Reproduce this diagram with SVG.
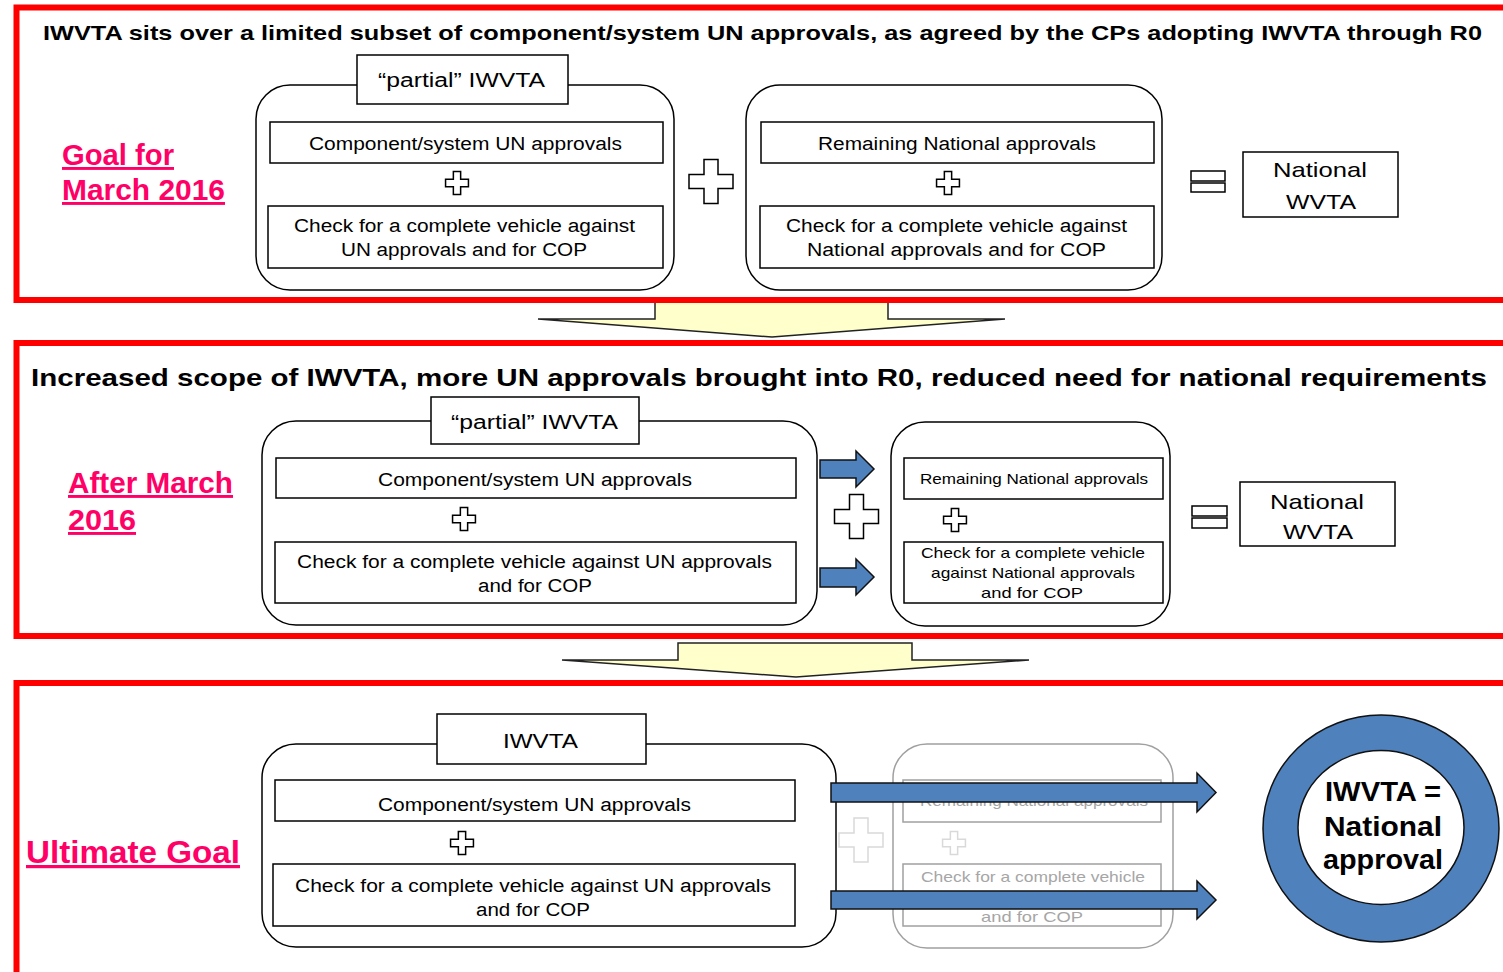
<svg xmlns="http://www.w3.org/2000/svg" width="1503" height="972" viewBox="0 0 1503 972">
<style>
text{font-family:"Liberation Sans",Arial,sans-serif;fill:#000}
.t{font-size:18px}
.ts{font-size:15px}
.lbl{font-size:20px}
.nat{font-size:21px}
.title{font-weight:bold}
.goal{font-weight:bold;fill:#FF0066;text-decoration:underline}
.frame{fill:none;stroke:#FF0000;stroke-width:6}
.rbox{fill:#fff;stroke:#000;stroke-width:1.5}
.box{fill:#fff;stroke:#000;stroke-width:1.5}
.fbox{fill:none;stroke:#A0A0A0;stroke-width:1.5}
.ftext{fill:#A6A6A6}
.plus{fill:#fff;stroke:#000;stroke-width:1.5}
.fplus{fill:#fff;stroke:#D9D9D9;stroke-width:1.5}
.blk{fill:#FFFFCC;stroke:#222;stroke-width:1.5;stroke-linejoin:miter}
.blue{fill:#4F81BD;stroke:#111;stroke-width:1.5}
</style>
<defs>
<path id="plusShape" d="M-7,-22 H7 V-7 H22 V7 H7 V22 H-7 V7 H-22 V-7 H-7 Z"/>
</defs>
<rect width="1503" height="972" fill="#fff"/>

<g id="connectors">
<polygon class="blk" points="655,299 888,299 888,319 1005,319 772,337 538,319 655,319"/>
<polygon class="blk" points="678,643 912,643 912,660 1029,660 796,677 562,660 678,660"/>
</g>

<g id="frames">
<rect class="frame" x="16.5" y="7.5" width="1500" height="292.5"/>
<rect class="frame" x="16.5" y="343" width="1500" height="293"/>
<rect class="frame" x="16.5" y="683" width="1500" height="400"/>
</g>

<!-- Section 1 -->
<g id="section1-title"><text class="title" x="43" y="40" font-size="20.5" textLength="1439" lengthAdjust="spacingAndGlyphs">IWVTA sits over a limited  subset of component/system UN approvals, as agreed by the CPs adopting IWVTA through R0</text></g>
<g id="label-goal"><text class="goal" x="62" y="165" font-size="29" textLength="112" lengthAdjust="spacingAndGlyphs">Goal for</text><text class="goal" x="62" y="200" font-size="29" textLength="163" lengthAdjust="spacingAndGlyphs">March 2016</text></g>

<g id="s1-partial">
<rect class="rbox" x="256" y="85" width="418" height="205" rx="34"/>
<rect class="box" x="357" y="55" width="211" height="49"/>
<text class="lbl" x="378" y="87" textLength="167" lengthAdjust="spacingAndGlyphs">“partial” IWVTA</text>
<rect class="box" x="270" y="122" width="393" height="41"/>
<text class="t" x="309" y="150" textLength="313" lengthAdjust="spacingAndGlyphs">Component/system UN approvals</text>
<use href="#plusShape" class="plus" transform="translate(457,183) scale(0.52)" style="stroke-width:2.9"/>
<rect class="box" x="268" y="206" width="395" height="62"/>
<text class="t" x="294" y="232" textLength="341" lengthAdjust="spacingAndGlyphs">Check for a complete vehicle against</text>
<text class="t" x="341" y="256" textLength="246" lengthAdjust="spacingAndGlyphs">UN approvals and for COP</text>
</g>
<g id="s1-plus"><use href="#plusShape" class="plus" transform="translate(711,181.5)"/></g>
<g id="s1-national">
<rect class="rbox" x="746" y="85" width="416" height="205" rx="34"/>
<rect class="box" x="761" y="122" width="393" height="41"/>
<text class="t" x="818" y="150" textLength="278" lengthAdjust="spacingAndGlyphs">Remaining National approvals</text>
<use href="#plusShape" class="plus" transform="translate(948,183) scale(0.52)" style="stroke-width:2.9"/>
<rect class="box" x="760" y="206" width="394" height="62"/>
<text class="t" x="786" y="232" textLength="341" lengthAdjust="spacingAndGlyphs">Check for a complete vehicle against</text>
<text class="t" x="807" y="256" textLength="299" lengthAdjust="spacingAndGlyphs">National approvals and  for COP</text>
</g>
<g id="s1-equals"><rect class="box" x="1191" y="171" width="34" height="10"/><rect class="box" x="1191" y="183" width="34" height="9"/></g>
<g id="s1-wvta">
<rect class="box" x="1243" y="152" width="155" height="65"/>
<text class="nat" x="1273" y="177" textLength="94" lengthAdjust="spacingAndGlyphs">National</text>
<text class="nat" x="1286" y="209" textLength="70" lengthAdjust="spacingAndGlyphs">WVTA</text>
</g>

<!-- Section 2 -->
<g id="section2-title"><text class="title" x="31" y="386" font-size="24" textLength="1456" lengthAdjust="spacingAndGlyphs">Increased scope of IWVTA, more UN approvals brought into R0, reduced need for national requirements</text></g>
<g id="label-after"><text class="goal" x="68" y="493" font-size="29" textLength="165" lengthAdjust="spacingAndGlyphs">After March</text><text class="goal" x="68" y="530" font-size="29" textLength="68" lengthAdjust="spacingAndGlyphs">2016</text></g>
<g id="s2-partial">
<rect class="rbox" x="262" y="421" width="555" height="204" rx="34"/>
<rect class="box" x="431" y="397" width="208" height="47"/>
<text class="lbl" x="451" y="429" textLength="167" lengthAdjust="spacingAndGlyphs">“partial” IWVTA</text>
<rect class="box" x="276" y="458" width="520" height="40"/>
<text class="t" x="378" y="486" textLength="314" lengthAdjust="spacingAndGlyphs">Component/system UN approvals</text>
<use href="#plusShape" class="plus" transform="translate(464,519) scale(0.52)" style="stroke-width:2.9"/>
<rect class="box" x="275" y="542" width="521" height="61"/>
<text class="t" x="297" y="568" textLength="475" lengthAdjust="spacingAndGlyphs">Check for a complete vehicle against UN approvals</text>
<text class="t" x="478" y="592" textLength="114" lengthAdjust="spacingAndGlyphs">and for COP</text>
</g>
<g id="s2-plus"><use href="#plusShape" class="plus" transform="translate(856.5,516.5)"/></g>
<g id="s2-national">
<rect class="rbox" x="891" y="422" width="279" height="204" rx="34"/>
<rect class="box" x="904" y="458" width="259" height="41"/>
<text class="ts" x="920" y="484" textLength="228" lengthAdjust="spacingAndGlyphs">Remaining National approvals</text>
<use href="#plusShape" class="plus" transform="translate(955,520) scale(0.52)" style="stroke-width:2.9"/>
<rect class="box" x="904" y="542" width="259" height="61"/>
<text class="ts" x="921" y="558" textLength="224" lengthAdjust="spacingAndGlyphs">Check for a complete vehicle</text>
<text class="ts" x="931" y="578" textLength="204" lengthAdjust="spacingAndGlyphs">against National approvals</text>
<text class="ts" x="981" y="598" textLength="102" lengthAdjust="spacingAndGlyphs">and  for COP</text>
</g>
<g id="s2-arrows">
<polygon class="blue" points="820,460 856,460 856,451 874,469 856,487 856,478 820,478"/>
<polygon class="blue" points="820,568 856,568 856,559 874,577 856,595 856,587 820,587"/>
</g>
<g id="s2-equals"><rect class="box" x="1192" y="506" width="35" height="10"/><rect class="box" x="1192" y="518" width="35" height="10"/></g>
<g id="s2-wvta">
<rect class="box" x="1240" y="482" width="155" height="64"/>
<text class="nat" x="1270" y="509" textLength="94" lengthAdjust="spacingAndGlyphs">National</text>
<text class="nat" x="1283" y="539" textLength="70" lengthAdjust="spacingAndGlyphs">WVTA</text>
</g>

<!-- Section 3 -->
<g id="label-ultimate"><text class="goal" x="26" y="863" font-size="32" textLength="214" lengthAdjust="spacingAndGlyphs">Ultimate Goal</text></g>
<g id="s3-iwvta">
<rect class="rbox" x="262" y="744" width="574" height="203" rx="34"/>
<rect class="box" x="437" y="714" width="209" height="50"/>
<text class="lbl" x="503" y="748" textLength="75" lengthAdjust="spacingAndGlyphs">IWVTA</text>
<rect class="box" x="275" y="780" width="520" height="41"/>
<text class="t" x="378" y="811" textLength="313" lengthAdjust="spacingAndGlyphs">Component/system UN approvals</text>
<use href="#plusShape" class="plus" transform="translate(462,843) scale(0.52)" style="stroke-width:2.9"/>
<rect class="box" x="273" y="864" width="522" height="62"/>
<text class="t" x="295" y="892" textLength="476" lengthAdjust="spacingAndGlyphs">Check for a complete vehicle against UN approvals</text>
<text class="t" x="476" y="916" textLength="114" lengthAdjust="spacingAndGlyphs">and for COP</text>
</g>
<g id="s3-faded-plus"><use href="#plusShape" class="fplus" transform="translate(861,840)"/></g>
<g id="s3-faded-national">
<rect class="fbox" x="893" y="744" width="280" height="204" rx="34"/>
<rect class="fbox" x="903" y="780" width="258" height="42"/>
<text class="ts ftext" x="920" y="806" textLength="228" lengthAdjust="spacingAndGlyphs">Remaining National approvals</text>
<use href="#plusShape" class="fplus" transform="translate(954,843) scale(0.52)" style="stroke-width:2.9"/>
<rect class="fbox" x="903" y="864" width="258" height="62"/>
<text class="ts ftext" x="921" y="882" textLength="224" lengthAdjust="spacingAndGlyphs">Check for a complete vehicle</text>
<text class="ts ftext" x="931" y="902" textLength="204" lengthAdjust="spacingAndGlyphs">against National approvals</text>
<text class="ts ftext" x="981" y="922" textLength="102" lengthAdjust="spacingAndGlyphs">and  for COP</text>
</g>
<g id="s3-arrows">
<polygon class="blue" points="831,783 1197,783 1197,773 1216,792.5 1197,812 1197,802 831,802"/>
<polygon class="blue" points="831,891 1197,891 1197,881 1216,900 1197,919 1197,909 831,909"/>
</g>
<g id="s3-circle">
<ellipse cx="1381" cy="828.5" rx="118" ry="113.5" fill="#4F81BD" stroke="#111" stroke-width="1.5"/>
<ellipse cx="1381" cy="827.5" rx="83" ry="77" fill="#fff" stroke="#111" stroke-width="1.5"/>
<text class="title" x="1325" y="801" font-size="28" textLength="116" lengthAdjust="spacingAndGlyphs">IWVTA =</text>
<text class="title" x="1324" y="836" font-size="28" textLength="118" lengthAdjust="spacingAndGlyphs">National</text>
<text class="title" x="1323" y="869" font-size="28" textLength="120" lengthAdjust="spacingAndGlyphs">approval</text>
</g>
</svg>
